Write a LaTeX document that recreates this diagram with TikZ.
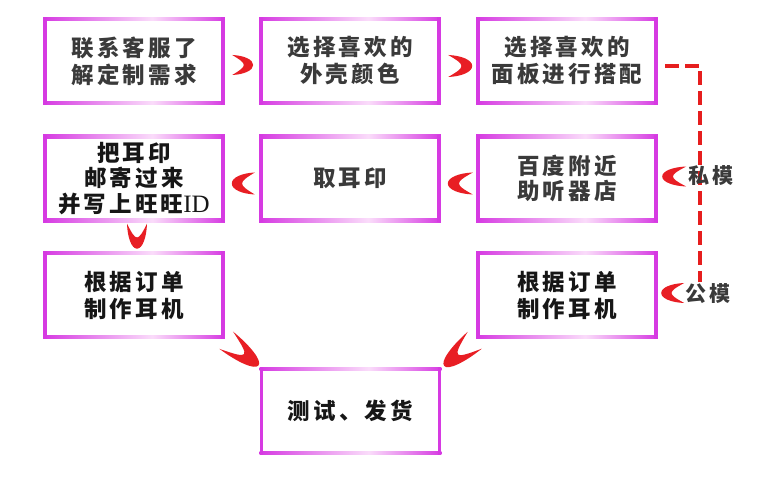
\documentclass[tikz,border=0pt]{standalone}
\usepackage{fontspec}
\newfontfamily\cjk[LetterSpace=14,BoldFont={Noto Sans CJK SC Black}]{Noto Sans CJK SC}
\newfontfamily\idfont{Liberation Serif}
\usetikzlibrary{calc}
\definecolor{mag}{RGB}{214,58,226}
\definecolor{pale}{RGB}{250,220,250}
\definecolor{moonred}{RGB}{232,30,36}
\definecolor{txtgray}{RGB}{58,58,58}
\definecolor{txtdark}{RGB}{22,22,22}
\definecolor{dashred}{RGB}{230,30,30}
\pgfdeclarehorizontalshading{edgeshade}{100bp}{color(0bp)=(mag); color(25bp)=(mag); color(55bp)=(pale); color(75bp)=(mag); color(100bp)=(mag)}
\newcommand\mygframe[1]{%
  \shade[shading=edgeshade] ($(#1.north west)+(-1.75,-1.75)$) rectangle ($(#1.north east)+(1.75,1.75)$);
  \shade[shading=edgeshade] ($(#1.south west)+(-1.75,-1.75)$) rectangle ($(#1.south east)+(1.75,1.75)$);
  \fill[mag] ($(#1.north west)+(-1.75,1.75)$) rectangle ($(#1.south west)+(1.75,-1.75)$);
  \fill[mag] ($(#1.north east)+(-1.75,1.75)$) rectangle ($(#1.south east)+(1.75,-1.75)$);
}
\tikzset{
  boxtxt/.style={minimum width=178pt, minimum height=84pt, inner sep=0pt, align=center,
    font=\cjk\bfseries\fontsize{22.5}{27}\selectfont, text=txtgray},
  lbl/.style={inner sep=0pt, font=\cjk\bfseries\fontsize{21}{24}\selectfont, text=txtgray},
  dashline/.style={draw=dashred, line width=3.5pt, dash pattern=on 14pt off 6pt},
  pics/moon/.style 2 args={code={
    \fill[moonred] (0,-#1) .. controls ({0.55*#2},{-0.95*#1}) and (#2,{-0.55*#1}) .. (#2,0)
      .. controls (#2,{0.55*#1}) and ({0.55*#2},{0.95*#1}) .. (0,#1)
      .. controls ({0.4*#2},{0.5*#1}) and ({0.55*#2},{0.25*#1}) .. ({0.55*#2},0)
      .. controls ({0.55*#2},{-0.25*#1}) and ({0.4*#2},{-0.5*#1}) .. cycle;
  }}
}
\begin{document}
\begin{tikzpicture}[x=1pt,y=1pt]
\fill[white] (0,0) rectangle (760,481);
\useasboundingbox (0,0) rectangle (760,481);

\node[boxtxt] (b1) at (134,420) {联系客服了\\解定制需求};
\node[boxtxt] (b2) at (350,420) {选择喜欢的\\外壳颜色};
\node[boxtxt] (b3) at (567,420) {选择喜欢的\\面板进行搭配};
\node[boxtxt, text=txtdark, font=\cjk\bfseries\fontsize{22.5}{25.5}\selectfont] (b4) at (134,302.5)
  {把耳印\\邮寄过来\\并写上旺旺{\idfont\mdseries\fontsize{25}{25.5}\selectfont ID}};
\node[boxtxt] (b5) at (350,302.5) {取耳印};
\node[boxtxt, font=\cjk\bfseries\fontsize{22.5}{25.5}\selectfont] (b6) at (567,302.5) {百度附近\\助听器店};
\node[boxtxt, text=txtdark] (b7) at (134,186) {根据订单\\制作耳机};
\node[boxtxt, text=txtdark] (b8) at (567,186) {根据订单\\制作耳机};
\node[boxtxt, text=txtdark] (b9) at (350.5,70) {测试、发货};

\foreach \n in {b1,b2,b3,b4,b5,b6,b7,b8,b9} {\mygframe{\n}}

% dashed connector
\coordinate (dend) at (700,199);
\draw[dashline] ($(b3.east)+(9,-5)$) -| (dend);

% crescent connectors
\pic at ($(b1.east)+(9,-4)$) {moon={10}{21}};
\pic at ($(b2.east)+(9,-5)$) {moon={11}{24}};
\pic[rotate=180] at ($(b6.west)+(-5,-5)$) {moon={11}{25}};
\pic[rotate=180] at ($(b5.west)+(-6,-5)$) {moon={11}{23}};
\pic[rotate=-90] at ($(b4.south)+(3,-3)$) {moon={10}{25}};
\pic[rotate=180] at ($(b6.east)+(30,2)$) {moon={10}{24}};
\pic[rotate=180] at ($(b8.east)+(28,2)$) {moon={10}{23}};
\pic[rotate=-38] at ($(b7.south east)+(3,-3)$) {moon={11}{41}};
\pic[rotate=-140] at ($(b8.south west)+(-3,-3)$) {moon={11}{40}};

\node[lbl] (l1) at ($(b6.east)+(55,2.5)$) {私模};
\node[lbl] (l2) at ($(b8.east)+(52,1)$) {公模};
\end{tikzpicture}
\end{document}
